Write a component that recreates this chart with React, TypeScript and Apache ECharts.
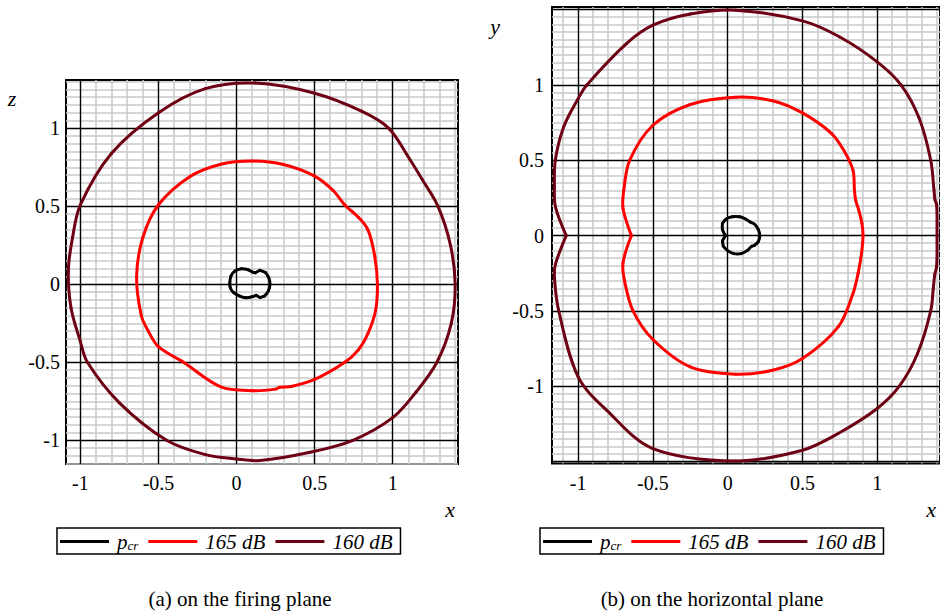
import { useEffect, useRef } from 'react';
import * as echarts from 'echarts';

type P = [number, number];

// (a) firing plane: x, z
const firingPcr: P[] = [
  [-0.043, 0.01], [-0.035, 0.055], [-0.01, 0.085], [0.03, 0.1], [0.07, 0.095], [0.1, 0.08],
  [0.12, 0.074], [0.15, 0.09], [0.185, 0.076], [0.207, 0.04], [0.214, 0.0], [0.205, -0.04],
  [0.18, -0.075], [0.15, -0.085], [0.125, -0.07], [0.1, -0.08], [0.06, -0.086], [0.02, -0.076],
  [-0.02, -0.052], [-0.04, -0.022],
];
const firing165: P[] = [
  [0.107, 0.79], [0.3, 0.768], [0.5, 0.694], [0.62, 0.6], [0.693, 0.509], [0.78, 0.43],
  [0.842, 0.348], [0.885, 0.18], [0.902, 0.0], [0.89, -0.17], [0.842, -0.314], [0.78, -0.42],
  [0.693, -0.5], [0.5, -0.61], [0.35, -0.655], [0.277, -0.66], [0.25, -0.672], [0.107, -0.682],
  [-0.1, -0.658], [-0.34, -0.5], [-0.5, -0.4], [-0.565, -0.3], [-0.61, -0.2], [-0.64, 0.05],
  [-0.6, 0.3], [-0.5, 0.51], [-0.3, 0.69], [-0.1, 0.77],
];
const firing160: P[] = [
  [0.12, 1.29], [0.5, 1.225], [0.8, 1.11], [0.975, 1.0], [1.11, 0.8], [1.19, 0.67], [1.29, 0.5],
  [1.37, 0.25], [1.4, 0.0], [1.375, -0.25], [1.283, -0.5], [1.15, -0.69], [1.0, -0.855],
  [0.745, -1.0], [0.47, -1.077], [0.15, -1.13], [0.0, -1.12], [-0.2, -1.092], [-0.448, -1.0],
  [-0.75, -0.76], [-0.955, -0.5], [-1.0, -0.367], [-1.06, -0.15], [-1.077, 0.09], [-1.05, 0.3],
  [-1.0, 0.51], [-0.8, 0.84], [-0.5, 1.1], [-0.2, 1.255],
];

// (b) horizontal plane: x, y
const horizPcr: P[] = [
  [-0.015, 0.0], [-0.035, 0.04], [-0.035, 0.08], [-0.01, 0.11], [0.03, 0.125], [0.08, 0.125],
  [0.12, 0.11], [0.15, 0.09], [0.18, 0.075], [0.205, 0.04], [0.215, 0.0], [0.205, -0.04],
  [0.18, -0.065], [0.16, -0.072], [0.13, -0.1], [0.09, -0.12], [0.04, -0.12], [0.0, -0.1],
  [-0.03, -0.07], [-0.035, -0.035],
];
const horiz165: P[] = [
  [0.053, 0.918], [0.3, 0.895], [0.5, 0.814], [0.695, 0.677], [0.78, 0.56], [0.838, 0.434],
  [0.848, 0.3], [0.856, 0.235], [0.876, 0.17], [0.898, 0.08], [0.905, 0.0], [0.895, -0.12],
  [0.872, -0.252], [0.838, -0.385], [0.739, -0.606], [0.5, -0.816], [0.3, -0.894], [0.053, -0.92],
  [-0.25, -0.872], [-0.5, -0.69], [-0.633, -0.5], [-0.69, -0.3], [-0.7, -0.18], [-0.644, 0.0],
  [-0.7, 0.18], [-0.695, 0.3], [-0.655, 0.5], [-0.5, 0.732], [-0.25, 0.87],
];
const horiz160: P[] = [
  [0.053, 1.496], [0.5, 1.425], [0.75, 1.318], [1.0, 1.153], [1.159, 1.0], [1.28, 0.78],
  [1.358, 0.5], [1.38, 0.3], [1.386, 0.24], [1.398, 0.2], [1.4, 0.0], [1.398, -0.2],
  [1.385, -0.26], [1.375, -0.35], [1.358, -0.5], [1.27, -0.783], [1.148, -1.0], [1.0, -1.148],
  [0.739, -1.314], [0.5, -1.425], [0.053, -1.496], [-0.5, -1.414], [-0.81, -1.159],
  [-1.0, -0.938], [-1.13, -0.5], [-1.159, -0.274], [-1.152, -0.19], [-1.08, 0.0],
  [-1.152, 0.19], [-1.159, 0.323], [-1.153, 0.5], [-1.097, 0.721], [-1.0, 0.909],
  [-0.942, 1.0], [-0.677, 1.274], [-0.5, 1.396], [-0.25, 1.47],
];

const seriesNames = ['pcr', '165 dB', '160 dB'];
const seriesColors = ['#000000', '#ff0000', '#6e0014'];
const majorTicks = [-1, -0.5, 0, 0.5, 1];
const tickLabels = ['-1', '-0.5', '0', '0.5', '1'];

const firingRange = { xMin: -1.092, xMax: 1.418, yMin: -1.152, yMax: 1.31 };
const horizRange = { xMin: -1.175, xMax: 1.42, yMin: -1.513, yMax: 1.517 };

const FONT = 'Liberation Serif';

function steps(min: number, max: number, step: number): number[] {
  const out: number[] = [];
  const start = Math.ceil(min / step - 1e-9);
  const end = Math.floor(max / step + 1e-9);
  for (let i = start; i <= end; i++) out.push(Math.round(i * step * 1000) / 1000);
  return out;
}
const isMajor = (v: number) => Math.abs(v * 2 - Math.round(v * 2)) < 1e-6;

function gridLineSeries(idx: number, r: typeof firingRange) {
  const xs = steps(r.xMin, r.xMax, 0.1);
  const ys = steps(r.yMin, r.yMax, 0.05);
  const minor = [
    ...xs.filter((v) => !isMajor(v)).map((v) => ({ xAxis: v })),
    ...ys.filter((v) => !isMajor(v)).map((v) => ({ yAxis: v })),
  ];
  const major = [
    ...xs.filter((v) => isMajor(v)).map((v) => ({ xAxis: v })),
    ...ys.filter((v) => isMajor(v)).map((v) => ({ yAxis: v })),
  ];
  const base = {
    type: 'line',
    xAxisIndex: idx,
    yAxisIndex: idx,
    data: [[0, 0]],
    symbol: 'none',
    lineStyle: { width: 0 },
    silent: true,
    z: 1,
  };
  return [
    {
      ...base,
      name: 'minor' + idx,
      markLine: {
        silent: true,
        symbol: ['none', 'none'],
        label: { show: false },
        z: 1,
        animation: false,
        lineStyle: { color: '#c8c8c8', width: 1.5, type: 'solid' },
        emphasis: { disabled: true },
        data: minor,
      },
    },
    {
      ...base,
      name: 'major' + idx,
      markLine: {
        silent: true,
        symbol: ['none', 'none'],
        label: { show: false },
        z: 2,
        animation: false,
        lineStyle: { color: '#000000', width: 1.4, type: 'solid' },
        emphasis: { disabled: true },
        data: major,
      },
    },
  ];
}

const dist = (a: number[], b: number[]) => Math.hypot(b[0] - a[0], b[1] - a[1]);

function curveSeries(idx: number, curves: P[][]) {
  return curves.map((d, i) => ({
    type: 'custom',
    name: seriesNames[i],
    coordinateSystem: 'cartesian2d',
    xAxisIndex: idx,
    yAxisIndex: idx,
    data: d,
    encode: { x: 0, y: 1 },
    color: seriesColors[i],
    itemStyle: { color: seriesColors[i] },
    z: 10,
    silent: true,
    renderItem: (params: any, api: any) => {
      if (params.dataIndex !== 0) return null;
      const pts: number[][] = d.map((p) => api.coord(p));
      const n = pts.length;
      // closed smooth curve through the read points (sharp where the outline turns sharply)
      const tan = pts.map((p, j) => {
        const prev = pts[(j - 1 + n) % n];
        const next = pts[(j + 1) % n];
        const d0 = dist(prev, p);
        const d1 = dist(p, next);
        const cos =
          ((p[0] - prev[0]) * (next[0] - p[0]) + (p[1] - prev[1]) * (next[1] - p[1])) /
          (d0 * d1 || 1);
        if (cos < 0.85) return [0, 0];
        const s = d0 + d1 || 1;
        return [(next[0] - prev[0]) / s, (next[1] - prev[1]) / s];
      });
      const children = pts.map((p, j) => {
        const q = pts[(j + 1) % n];
        const L = dist(p, q) / 3;
        const t0 = tan[j];
        const t1 = tan[(j + 1) % n];
        return {
          type: 'bezierCurve',
          shape: {
            x1: p[0],
            y1: p[1],
            x2: q[0],
            y2: q[1],
            cpx1: p[0] + t0[0] * L,
            cpy1: p[1] + t0[1] * L,
            cpx2: q[0] - t1[0] * L,
            cpy2: q[1] - t1[1] * L,
          },
          style: {
            fill: 'none',
            stroke: seriesColors[i],
            lineWidth: 3,
            lineCap: 'round',
            lineJoin: 'round',
          },
        };
      });
      return { type: 'group', children };
    },
  }));
}

function axes(idx: number, r: typeof firingRange, yMargin: number) {
  const fmt = (v: number) => {
    const k = majorTicks.findIndex((t) => Math.abs(t - v) < 1e-6);
    return k >= 0 ? tickLabels[k] : '';
  };
  const xMinorAll = steps(r.xMin, r.xMax, 0.1);
  const labelStyle = {
    customValues: majorTicks,
    formatter: fmt,
    fontFamily: FONT,
    fontSize: 20,
    color: '#000',
  };
  const x = {
    type: 'value',
    gridIndex: idx,
    min: r.xMin,
    max: r.xMax,
    axisLine: { show: false },
    splitLine: { show: false },
    axisTick: {
      show: true,
      customValues: xMinorAll,
      length: 4,
      lineStyle: { color: '#bdbdbd', width: 1.5 },
    },
    axisLabel: { ...labelStyle, margin: 9 },
  };
  const y = {
    type: 'value',
    gridIndex: idx,
    min: r.yMin,
    max: r.yMax,
    axisLine: { show: false },
    splitLine: { show: false },
    axisTick: { show: false },
    axisLabel: { ...labelStyle, margin: yMargin },
  };
  return { x, y };
}

function legendOpt(left: number) {
  return {
    left,
    top: 528,
    orient: 'horizontal',
    data: seriesNames,
    icon: 'rect',
    itemWidth: 49,
    itemHeight: 3,
    itemGap: 10,
    padding: [3, 8, 2, 3],
    borderColor: '#000',
    borderWidth: 1.5,
    selectedMode: false,
    formatter: (name: string) => (name === 'pcr' ? '{p|p}{s|cr}' : name),
    textStyle: {
      fontFamily: FONT,
      fontStyle: 'italic',
      fontSize: 21,
      color: '#000',
      padding: [0, 0, 0, 3],
      rich: {
        p: { fontFamily: FONT, fontStyle: 'italic', fontSize: 21, color: '#000' },
        s: {
          fontFamily: FONT,
          fontStyle: 'italic',
          fontSize: 13,
          color: '#000',
          padding: [8, 0, 0, 0],
        },
      },
    },
  };
}

function textEl(text: string, x: number, y: number, italic: boolean, size: number) {
  return {
    type: 'text',
    x,
    y,
    silent: true,
    style: {
      text,
      fill: '#000',
      fontFamily: FONT,
      fontStyle: italic ? 'italic' : 'normal',
      fontSize: size,
      align: 'center',
      verticalAlign: 'middle',
      textAlign: 'center',
      textVerticalAlign: 'middle',
    },
  };
}

export default function App() {
  const ref = useRef<HTMLDivElement>(null);
  useEffect(() => {
    if (!ref.current) return;
    const chart = echarts.init(ref.current, null, { renderer: 'svg' });
    const a0 = axes(0, firingRange, 6);
    const a1 = axes(1, horizRange, 8);
    const option = {
      animation: false,
      backgroundColor: '#ffffff',
      textStyle: { fontFamily: FONT },
      grid: [
        { left: 66, top: 80, width: 392, height: 384, show: true, borderColor: '#000', borderWidth: 2, backgroundColor: 'transparent' },
        { left: 552, top: 7, width: 391, height: 456.5, show: true, borderColor: '#000', borderWidth: 2, backgroundColor: 'transparent' },
      ],
      xAxis: [a0.x, a1.x],
      yAxis: [a0.y, a1.y],
      legend: [legendOpt(57), legendOpt(540)],
      series: [
        ...gridLineSeries(0, firingRange),
        ...gridLineSeries(1, horizRange),
        ...curveSeries(0, [firingPcr, firing165, firing160]),
        ...curveSeries(1, [horizPcr, horiz165, horiz160]),
      ],
      graphic: [
        textEl('z', 12, 98, true, 22),
        textEl('y', 495, 26, true, 22),
        textEl('x', 450, 509, true, 22),
        textEl('x', 931, 509, true, 22),
        textEl('(a) on the firing plane', 240, 599, false, 21),
        textEl('(b) on the horizontal plane', 712, 599, false, 21),
      ],
    };
    chart.setOption(option as any);
    return () => chart.dispose();
  }, []);
  return (
    <div
      ref={ref}
      style={{ position: 'absolute', left: 0, top: 0, width: 940, height: 613 }}
    />
  );
}
